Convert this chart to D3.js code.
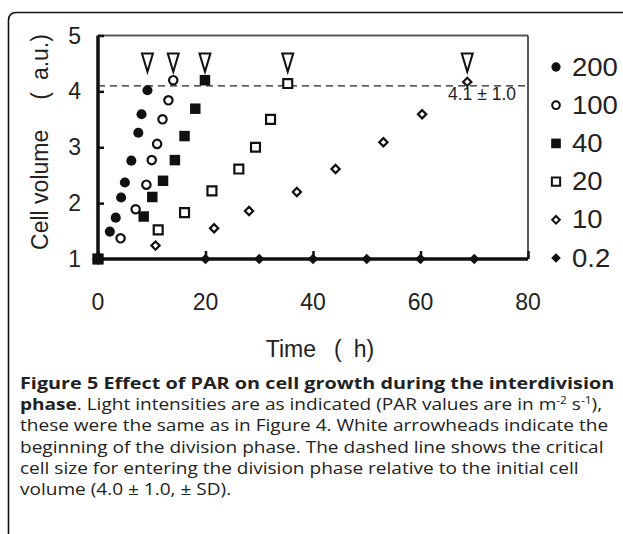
<!DOCTYPE html>
<html><head><meta charset="utf-8">
<script src="https://cdn.jsdelivr.net/npm/d3@7"></script>
<style>
html,body{margin:0;padding:0;background:#fff;}
svg{display:block;}
text{white-space:pre;}
</style></head>
<body>
<svg id="chart" width="623" height="534"></svg>
<script>
// ---- data ----
const legendLabels = ["200", "100", "40", "20", "10", "0.2"];
const hours200 = [0, 2.2, 3.3, 4.3, 5.0, 6.2, 7.5, 8.1, 9.2];
const vol200   = [1, 1.49, 1.74, 2.10, 2.37, 2.76, 3.26, 3.59, 4.02];
const hours100 = [0, 4.2, 7.0, 9.0, 10.0, 11.0, 12.0, 13.1, 14.0];
const vol100   = [1, 1.37, 1.89, 2.33, 2.77, 3.06, 3.50, 3.84, 4.20];
const hours40  = [0, 8.5, 10.1, 12.1, 14.3, 16.1, 18.1, 19.9];
const vol40    = [1, 1.76, 2.11, 2.40, 2.77, 3.20, 3.69, 4.20];
const hours20  = [0, 11.2, 16.1, 21.2, 26.2, 29.3, 32.1, 35.3];
const vol20    = [1, 1.52, 1.83, 2.22, 2.61, 3.00, 3.50, 4.14];
const hours10  = [0, 10.7, 21.6, 28.1, 37.0, 44.2, 53.1, 60.3, 68.7];
const vol10    = [1, 1.24, 1.55, 1.86, 2.20, 2.61, 3.09, 3.59, 4.17];
const hours02  = [0, 20, 30, 40, 50, 60, 70];
const vol02    = [1, 1, 1, 1, 1, 1, 1];
const arrowTimes = [9.2, 14.0, 19.9, 35.3, 68.7];
const criticalSize = 4.1;
const criticalLabel = "4.1 ± 1.0";
const xTicks = [0, 20, 40, 60, 80];
const yTicks = [1, 2, 3, 4, 5];

const svg = d3.select("#chart");
const x = d3.scaleLinear().domain([0, 80]).range([98, 528]);
const y = d3.scaleLinear().domain([1, 5]).range([259, 35.5]);
const FONT = "Liberation Sans";

// outer figure frame (rounded corner, continues off-page)
svg.append("path")
  .attr("d", "M8.5,540 L8.5,20.5 Q8.5,12.5 16.5,12.5 L630,12.5")
  .attr("fill", "none").attr("stroke", "#111").attr("stroke-width", 1.6);

// plot frame: top and right thin
svg.append("line").attr("x1", x(0)).attr("x2", x(80)).attr("y1", y(5)).attr("y2", y(5))
  .attr("stroke", "#555").attr("stroke-width", 2);
svg.append("line").attr("x1", x(80)).attr("x2", x(80)).attr("y1", y(5)).attr("y2", y(1))
  .attr("stroke", "#222").attr("stroke-width", 1.5);

// axes (thick, inward ticks)
const xAxis = d3.axisBottom(x).tickValues(xTicks).tickSize(-8).tickFormat("");
const gx = svg.append("g").attr("transform", `translate(0,${y(1)})`).call(xAxis);
gx.select(".domain").attr("stroke", "#111").attr("stroke-width", 3.5).attr("d", `M${x(0)},0H${x(80)}`);
gx.selectAll(".tick line").attr("stroke", "#111").attr("stroke-width", 2.5);
const yAxis = d3.axisLeft(y).tickValues(yTicks).tickSize(-6).tickFormat("");
const gy = svg.append("g").attr("transform", `translate(${x(0)},0)`).call(yAxis);
gy.select(".domain").attr("stroke", "#111").attr("stroke-width", 3.5).attr("d", `M0,${y(5)}V${y(1)}`);
gy.selectAll(".tick line").attr("stroke", "#111").attr("stroke-width", 2.5);

// tick labels
svg.append("g").selectAll("text").data(xTicks).join("text")
  .attr("x", d => x(d)).attr("y", 310).attr("text-anchor", "middle")
  .attr("font-family", FONT).attr("font-size", 23).attr("fill", "#222").text(d => d);
svg.append("g").selectAll("text").data(yTicks).join("text")
  .attr("x", 81).attr("y", d => y(d) + 8).attr("text-anchor", "end")
  .attr("font-family", FONT).attr("font-size", 23).attr("fill", "#222").text(d => d);

// axis titles
const xt = svg.append("text").attr("x", 320).attr("y", 357).attr("text-anchor", "middle")
  .attr("font-family", FONT).attr("font-size", 23).attr("fill", "#222");
xt.append("tspan").text("Time");
xt.append("tspan").attr("dx", 18).text("(");
xt.append("tspan").attr("dx", 12).text("h)");
const yt = svg.append("text").attr("transform", "translate(48,142) rotate(-90)").attr("text-anchor", "middle")
  .attr("font-family", FONT).attr("font-size", 23).attr("fill", "#222");
yt.append("tspan").text("Cell volume");
yt.append("tspan").attr("dx", 30).text("(");
yt.append("tspan").attr("dx", 12).text("a.u.)");

// dashed critical line
svg.append("line").attr("x1", x(0)).attr("x2", x(80)).attr("y1", y(criticalSize)).attr("y2", y(criticalSize))
  .attr("stroke", "#222").attr("stroke-width", 1.2).attr("stroke-dasharray", "7,5");
svg.append("text").attr("x", 482).attr("y", 100).attr("text-anchor", "middle")
  .attr("font-family", FONT).attr("font-size", 17.5).attr("fill", "#222").text(criticalLabel);

// symbols (diamonds drawn as 45°-rotated squares)
const sym = {
  "200": {type: d3.symbolCircle, size: 80, fill: "#111", stroke: "none", rot: 0},
  "100": {type: d3.symbolCircle, size: 55, fill: "#fff", stroke: "#111", rot: 0},
  "40":  {type: d3.symbolSquare, size: 110, fill: "#111", stroke: "none", rot: 0},
  "20":  {type: d3.symbolSquare, size: 80, fill: "#fff", stroke: "#111", rot: 0},
  "10":  {type: d3.symbolSquare, size: 34, fill: "#fff", stroke: "#111", rot: 45},
  "0.2": {type: d3.symbolSquare, size: 55, fill: "#111", stroke: "none", rot: 45}
};
const seriesData = {
  "200": [hours200, vol200], "100": [hours100, vol100], "40": [hours40, vol40],
  "20": [hours20, vol20], "10": [hours10, vol10], "0.2": [hours02, vol02]
};
const drawOrder = ["10", "20", "100", "200", "0.2", "40"];
drawOrder.forEach(k => {
  const s = sym[k];
  const [hs, vs] = seriesData[k];
  const pts = hs.map((h, i) => ({h, v: vs[i]}));
  svg.append("g").selectAll("path").data(pts).join("path")
    .attr("d", d3.symbol().type(s.type).size(s.size))
    .attr("transform", d => `translate(${x(d.h)},${y(d.v)}) rotate(${s.rot})`)
    .attr("fill", s.fill).attr("stroke", s.stroke).attr("stroke-width", 2.2);
});

// arrowheads
svg.append("g").selectAll("path").data(arrowTimes).join("path")
  .attr("d", t => `M${x(t) - 5.5},${y(4.68)} L${x(t) + 5.5},${y(4.68)} L${x(t)},${y(4.35)} Z`)
  .attr("fill", "#fff").attr("stroke", "#111").attr("stroke-width", 2);

// legend
const lg = svg.append("g").selectAll("g").data(legendLabels).join("g")
  .attr("transform", (d, i) => `translate(556,${67 + i * 38.2})`);
lg.append("path").attr("d", d => d3.symbol().type(sym[d].type).size(sym[d].size * 0.85)())
  .attr("transform", d => `rotate(${sym[d].rot})`)
  .attr("fill", d => sym[d].fill).attr("stroke", d => sym[d].stroke).attr("stroke-width", 2);
lg.append("text").attr("transform", "translate(16,8.5) scale(1.1,1)").attr("font-family", FONT).attr("font-size", 25)
  .attr("fill", "#222").text(d => d);

// caption (horizontally stretched, as in the reference image)
const CF = "Open Sans";
const stretch = (g, sx) => g.attr("transform", `matrix(${sx},0,0,1,${20 - 20 * sx},0)`);
const capB = stretch(svg.append("g"), 1.2375)
  .attr("font-family", CF).attr("font-size", 16).attr("fill", "#222");
capB.append("text").attr("x", 20).attr("y", 389).attr("font-weight", "bold")
  .text("Figure 5 Effect of PAR on cell growth during the interdivision");
const cap = stretch(svg.append("g"), 1.19)
  .attr("font-family", CF).attr("font-size", 16).attr("fill", "#222");
const l2 = cap.append("text").attr("x", 20).attr("y", 410);
l2.append("tspan").attr("font-weight", "bold").text("phase");
l2.append("tspan").text(". Light intensities are as indicated (PAR values are in m");
l2.append("tspan").attr("font-size", 10).attr("dy", -6).text("-2");
l2.append("tspan").attr("dy", 6).text(" s");
l2.append("tspan").attr("font-size", 10).attr("dy", -6).text("-1");
l2.append("tspan").attr("dy", 6).text("),");
cap.append("text").attr("x", 20).attr("y", 431).text("these were the same as in Figure 4. White arrowheads indicate the");
cap.append("text").attr("x", 20).attr("y", 453).text("beginning of the division phase. The dashed line shows the critical");
cap.append("text").attr("x", 20).attr("y", 474).text("cell size for entering the division phase relative to the initial cell");
cap.append("text").attr("x", 20).attr("y", 495).text("volume (4.0 ± 1.0, ± SD).");
</script>
</body></html>
